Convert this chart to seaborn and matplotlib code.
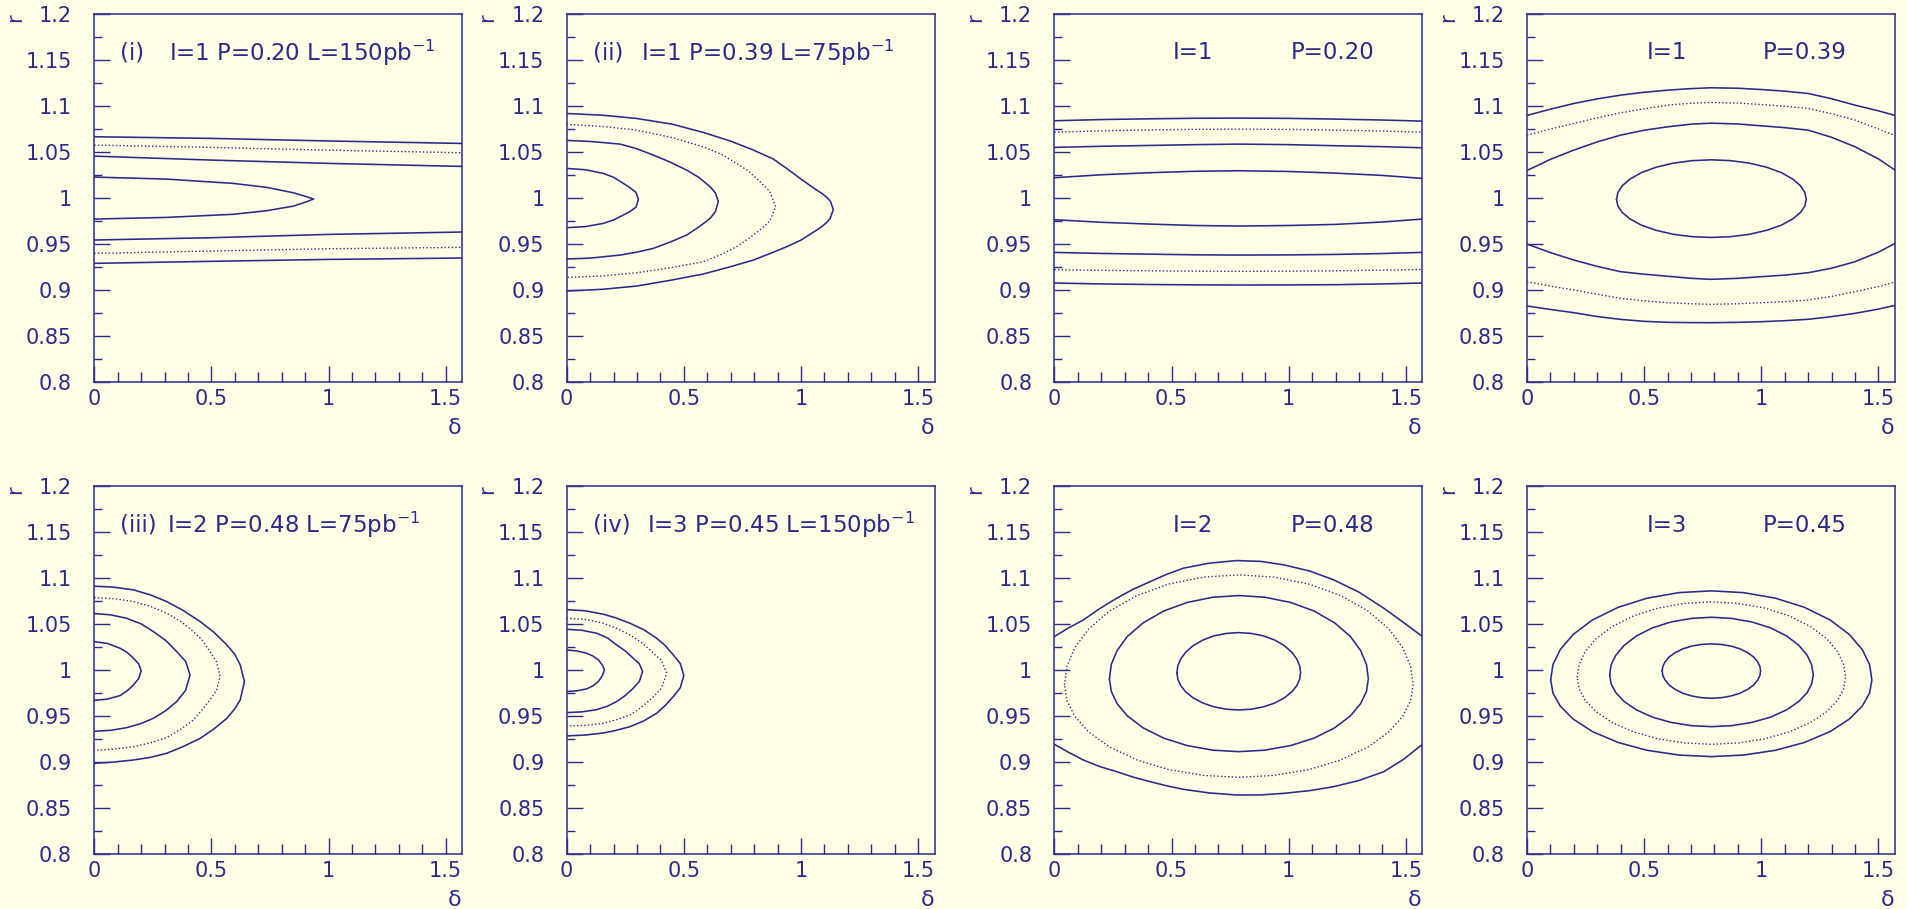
import matplotlib
matplotlib.use("Agg")
import matplotlib.pyplot as plt
import seaborn as sns
from matplotlib.ticker import FixedLocator, FixedFormatter, MultipleLocator

BG = '#FFFFE6'
INK = '#2A2A8C'

# axis ranges, ticks and labels
d_max = 1.5708
r_min, r_max = 0.8, 1.2
r_ticks = [0.8, 0.85, 0.9, 0.95, 1.0, 1.05, 1.1, 1.15, 1.2]
r_labels = ['0.8', '0.85', '0.9', '0.95', '1', '1.05', '1.1', '1.15', '1.2']
d_ticks = [0, 0.5, 1.0, 1.5]
d_labels = ['0', '0.5', '1', '1.5']

# panel texts (first part, second part)
txt_a = ['(i)', '(ii)', 'I=1', 'I=1', '(iii)', '(iv)', 'I=2', 'I=3']
txt_b = ['I=1 P=0.20 L=150pb$^{-1}$', 'I=1 P=0.39 L=75pb$^{-1}$', 'P=0.20', 'P=0.39',
         'I=2 P=0.48 L=75pb$^{-1}$', 'I=3 P=0.45 L=150pb$^{-1}$', 'P=0.48', 'P=0.45']

# contour curves: (delta, r, style)
p1 = [
    ([0, 0.5, 1.0, 1.5708], [1.0666, 1.0648, 1.062, 1.0593], 'solid'),
    ([0, 0.5, 1.0, 1.5708], [1.0575, 1.055, 1.052, 1.0492], 'dot'),
    ([0, 0.5, 1.0, 1.5708], [1.0455, 1.0412, 1.0376, 1.0343], 'solid'),
    ([0, 0.309, 0.594, 0.736, 0.85, 0.907, 0.936, 0.907, 0.85, 0.736, 0.594, 0.309, 0],
     [1.0227, 1.0205, 1.0158, 1.0115, 1.0056, 1.0013, 0.9988, 0.9959, 0.9911, 0.9861, 0.9822, 0.9788, 0.977], 'solid'),
    ([0, 0.5, 1.0, 1.5708], [0.9542, 0.9567, 0.9603, 0.9629], 'solid'),
    ([0, 0.5, 1.0, 1.5708], [0.9397, 0.9422, 0.9447, 0.9462], 'dot'),
    ([0, 0.5, 1.0, 1.5708], [0.9288, 0.931, 0.9331, 0.9346], 'solid'),
]

p2 = [
    ([0, 0.15, 0.299, 0.45, 0.583, 0.7, 0.797, 0.88, 0.939, 1.0, 1.067, 1.09, 1.11, 1.125, 1.138,
      1.125, 1.11, 1.09, 1.067, 1.0, 0.939, 0.88, 0.797, 0.7, 0.583, 0.45, 0.299, 0.15, 0],
     [1.0919, 1.0901, 1.0865, 1.0803, 1.0713, 1.0618, 1.0521, 1.0426, 1.0321, 1.0205, 1.0085, 1.0048, 1.0007, 0.9965, 0.9875,
      0.9779, 0.9734, 0.969, 0.965, 0.9541, 0.9469, 0.9407, 0.9324, 0.9252, 0.9172, 0.9107, 0.9041, 0.9005, 0.8987], 'solid'),
    ([0, 0.15, 0.299, 0.45, 0.583, 0.66, 0.725, 0.78, 0.825, 0.867, 0.892,
      0.867, 0.825, 0.78, 0.725, 0.66, 0.583, 0.45, 0.299, 0.15, 0],
     [1.080, 1.0779, 1.0738, 1.0657, 1.0557, 1.0475, 1.0376, 1.0285, 1.0176, 1.007, 0.9904,
      0.9749, 0.965, 0.9565, 0.9469, 0.9385, 0.9306, 0.9243, 0.9186, 0.915, 0.9135], 'dot'),
    ([0, 0.1, 0.228, 0.3, 0.37, 0.44, 0.512, 0.565, 0.612, 0.635, 0.647,
      0.635, 0.612, 0.565, 0.512, 0.44, 0.37, 0.3, 0.228, 0.1, 0],
     [1.0626, 1.0615, 1.0586, 1.0535, 1.0466, 1.0392, 1.0303, 1.0222, 1.0122, 1.0054, 0.9959,
      0.9852, 0.9777, 0.9685, 0.9596, 0.9518, 0.9451, 0.941, 0.9378, 0.9345, 0.9335], 'solid'),
    ([0, 0.08, 0.156, 0.2, 0.242, 0.27, 0.296, 0.306, 0.296, 0.27, 0.242, 0.2, 0.156, 0.08, 0],
     [1.0321, 1.0307, 1.0267, 1.0225, 1.0158, 1.0112, 1.006, 0.9984, 0.990, 0.9852, 0.9814, 0.976, 0.9723, 0.9688, 0.9676], 'solid'),
]

d3 = [0, 0.2, 0.4, 0.6, 0.785, 1.0, 1.2, 1.4, 1.5708]
p3 = [
    (d3, [1.084, 1.0853, 1.0861, 1.0867, 1.0869, 1.0866, 1.0858, 1.0848, 1.0836], 'solid'),
    (d3, [1.0716, 1.073, 1.074, 1.0746, 1.0749, 1.0746, 1.0738, 1.0728, 1.0716], 'dot'),
    (d3, [1.055, 1.0562, 1.0571, 1.058, 1.0586, 1.058, 1.0568, 1.0558, 1.0546], 'solid'),
    (d3, [1.022, 1.0252, 1.0274, 1.029, 1.0296, 1.0288, 1.027, 1.0245, 1.0212], 'solid'),
    (d3, [0.9763, 0.9735, 0.9716, 0.970, 0.9694, 0.970, 0.9712, 0.9738, 0.977], 'solid'),
    (d3, [0.9407, 0.9396, 0.9388, 0.9381, 0.9378, 0.938, 0.9385, 0.9395, 0.9407], 'solid'),
    (d3, [0.9219, 0.9212, 0.9207, 0.9203, 0.9201, 0.9203, 0.9207, 0.9214, 0.9222], 'dot'),
    (d3, [0.9074, 0.9064, 0.9058, 0.9054, 0.9052, 0.9053, 0.9056, 0.9064, 0.9074], 'solid'),
]

d4 = [0, 0.1, 0.2, 0.3, 0.4, 0.5, 0.6, 0.7, 0.785, 0.9, 1.0, 1.1, 1.2, 1.3, 1.4, 1.5, 1.5708]
p4 = [
    (d4, [1.0898, 1.0966, 1.1028, 1.1078, 1.1119, 1.115, 1.1173, 1.119, 1.1199, 1.1194, 1.118, 1.1162, 1.1137,
          1.108, 1.101, 1.0948, 1.0898], 'solid'),
    (d4, [1.0684, 1.075, 1.0811, 1.0872, 1.0927, 1.097, 1.101, 1.1031, 1.1039, 1.1033, 1.1017, 1.0998, 1.0974,
          1.0917, 1.0847, 1.075, 1.068], 'dot'),
    (d4, [1.0299, 1.042, 1.0521, 1.061, 1.0684, 1.0737, 1.0774, 1.0803, 1.0814, 1.0805, 1.0785, 1.0765, 1.0738,
          1.066, 1.0557, 1.0425, 1.0303], 'solid'),
    ([0.382, 0.388, 0.406, 0.439, 0.487, 0.552, 0.625, 0.706, 0.787, 0.868, 0.949, 1.022, 1.087, 1.135, 1.168, 1.186, 1.192,
      1.186, 1.168, 1.135, 1.087, 1.022, 0.949, 0.868, 0.787, 0.706, 0.625, 0.552, 0.487, 0.439, 0.406, 0.388, 0.382],
     [0.9984, 1.0059, 1.0131, 1.0204, 1.0274, 1.0335, 1.0379, 1.0406, 1.0415, 1.0406, 1.0379, 1.0335, 1.0274, 1.0204, 1.0131, 1.0059, 0.9984,
      0.9912, 0.9843, 0.9773, 0.9705, 0.9647, 0.9604, 0.9578, 0.9570, 0.9578, 0.9604, 0.9647, 0.9705, 0.9773, 0.9843, 0.9912, 0.9984], 'solid'),
    (d4, [0.9498, 0.9405, 0.9324, 0.9255, 0.9197, 0.917, 0.9148, 0.9125, 0.9114, 0.9125, 0.9143, 0.916, 0.9186,
          0.9235, 0.9306, 0.941, 0.9505], 'solid'),
    (d4, [0.9088, 0.904, 0.8998, 0.8952, 0.8907, 0.888, 0.886, 0.8848, 0.8842, 0.8848, 0.886, 0.8872, 0.8889,
          0.8928, 0.898, 0.9035, 0.9085], 'dot'),
    (d4, [0.8824, 0.8786, 0.8751, 0.8709, 0.8678, 0.8657, 0.8646, 0.8643, 0.8642, 0.8646, 0.8653, 0.8664, 0.8679,
          0.8708, 0.8744, 0.879, 0.8831], 'solid'),
]

p5 = [
    ([0, 0.08, 0.167, 0.24, 0.309, 0.38, 0.452, 0.51, 0.566, 0.6, 0.623, 0.641,
      0.623, 0.6, 0.566, 0.51, 0.452, 0.38, 0.309, 0.24, 0.167, 0.08, 0],
     [1.0915, 1.0905, 1.0875, 1.082, 1.0748, 1.065, 1.053, 1.0415, 1.0276, 1.0173, 1.0058, 0.9877,
      0.9677, 0.9581, 0.9477, 0.936, 0.9259, 0.917, 0.9096, 0.9052, 0.9023, 0.900, 0.8987], 'solid'),
    ([0, 0.08, 0.167, 0.24, 0.309, 0.37, 0.423, 0.46, 0.494, 0.522, 0.537,
      0.522, 0.494, 0.46, 0.423, 0.37, 0.309, 0.24, 0.167, 0.08, 0],
     [1.0791, 1.078, 1.0748, 1.0695, 1.0621, 1.053, 1.0421, 1.033, 1.0203, 1.0091, 0.9931,
      0.9783, 0.9677, 0.957, 0.9459, 0.936, 0.9266, 0.921, 0.9169, 0.914, 0.9129], 'dot'),
    ([0, 0.07, 0.138, 0.2, 0.252, 0.305, 0.352, 0.39, 0.409, 0.39, 0.352, 0.305, 0.252, 0.2, 0.138, 0.07, 0],
     [1.0617, 1.0603, 1.0566, 1.0505, 1.0421, 1.0325, 1.0203, 1.0096, 0.9949, 0.9782, 0.9659, 0.956, 0.9477, 0.942, 0.9375, 0.9346, 0.9336], 'solid'),
    ([0, 0.055, 0.11, 0.14, 0.167, 0.19, 0.2, 0.19, 0.167, 0.14, 0.11, 0.055, 0],
     [1.0312, 1.0292, 1.024, 1.0195, 1.0131, 1.0068, 0.9993, 0.991, 0.984, 0.9775, 0.9724, 0.9685, 0.9673], 'solid'),
]

p6 = [
    ([0, 0.08, 0.156, 0.21, 0.27, 0.33, 0.384, 0.42, 0.455, 0.485, 0.5,
      0.485, 0.455, 0.42, 0.384, 0.33, 0.27, 0.21, 0.156, 0.08, 0],
     [1.066, 1.0647, 1.061, 1.057, 1.0512, 1.044, 1.0348, 1.027, 1.0167, 1.0072, 0.9942,
      0.981, 0.9713, 0.9615, 0.9532, 0.945, 0.9386, 0.9345, 0.9317, 0.9295, 0.9285], 'solid'),
    ([0, 0.08, 0.156, 0.21, 0.27, 0.315, 0.356, 0.385, 0.405, 0.427,
      0.405, 0.385, 0.356, 0.315, 0.27, 0.21, 0.156, 0.08, 0],
     [1.0566, 1.0553, 1.0512, 1.046, 1.0385, 1.031, 1.0221, 1.015, 1.0108, 0.9967,
      0.9806, 0.975, 0.9677, 0.959, 0.9513, 0.946, 0.9422, 0.940, 0.9393], 'dot'),
    ([0, 0.065, 0.128, 0.175, 0.213, 0.25, 0.284, 0.31, 0.324, 0.31, 0.284, 0.25, 0.213, 0.175, 0.128, 0.065, 0],
     [1.0446, 1.0435, 1.0403, 1.035, 1.0276, 1.021, 1.0131, 1.0071, 0.9985, 0.9878, 0.9804, 0.9725, 0.9659, 0.961, 0.9571, 0.9547, 0.9539], 'solid'),
    ([0, 0.045, 0.085, 0.112, 0.135, 0.153, 0.161, 0.153, 0.135, 0.112, 0.085, 0.045, 0],
     [1.0221, 1.021, 1.0185, 1.0155, 1.0113, 1.0055, 1.0004, 0.9945, 0.9877, 0.983, 0.9797, 0.9777, 0.9768], 'solid'),
]

d7 = [0, 0.06, 0.124, 0.19, 0.266, 0.335, 0.409, 0.48, 0.551, 0.66, 0.779, 0.88, 0.979, 1.09, 1.192, 1.3, 1.406, 1.49, 1.5708]
p7 = [
    (d7, [1.0367, 1.046, 1.0548, 1.0665, 1.0784, 1.088, 1.0965, 1.1045, 1.1111, 1.1165, 1.1194, 1.1185, 1.1147,
          1.108, 1.0984, 1.085, 1.0675, 1.052, 1.0367], 'solid'),
    ([0.043, 0.054, 0.088, 0.147, 0.236, 0.355, 0.489, 0.638, 0.787, 0.936, 1.085, 1.219, 1.338, 1.427, 1.486, 1.520, 1.531,
      1.520, 1.486, 1.427, 1.338, 1.219, 1.085, 0.936, 0.787, 0.638, 0.489, 0.355, 0.236, 0.147, 0.088, 0.054, 0.043],
     [0.984, 1.0047, 1.0249, 1.0451, 1.0646, 1.0816, 1.0939, 1.1014, 1.1038, 1.1014, 1.0939, 1.0816, 1.0646, 1.0451, 1.0249, 1.0047, 0.984,
      0.9666, 0.9497, 0.9327, 0.9164, 0.9021, 0.8918, 0.8855, 0.8835, 0.8855, 0.8918, 0.9021, 0.9164, 0.9327, 0.9497, 0.9666, 0.984], 'dot'),
    ([0.235, 0.243, 0.268, 0.312, 0.379, 0.467, 0.567, 0.677, 0.788, 0.898, 1.008, 1.108, 1.196, 1.263, 1.307, 1.332, 1.340,
      1.332, 1.307, 1.263, 1.196, 1.108, 1.008, 0.898, 0.788, 0.677, 0.567, 0.467, 0.379, 0.312, 0.268, 0.243, 0.235],
     [0.9906, 1.0063, 1.0215, 1.0369, 1.0516, 1.0645, 1.0738, 1.0795, 1.0813, 1.0795, 1.0738, 1.0645, 1.0516, 1.0369, 1.0215, 1.0063, 0.9906,
      0.9769, 0.9636, 0.9502, 0.9373, 0.9261, 0.9180, 0.9130, 0.9114, 0.9130, 0.9180, 0.9261, 0.9373, 0.9502, 0.9636, 0.9769, 0.9906], 'solid'),
    ([0.523, 0.527, 0.539, 0.560, 0.592, 0.634, 0.681, 0.734, 0.787, 0.840, 0.893, 0.940, 0.982, 1.014, 1.035, 1.047, 1.051,
      1.047, 1.035, 1.014, 0.982, 0.940, 0.893, 0.840, 0.787, 0.734, 0.681, 0.634, 0.592, 0.560, 0.539, 0.527, 0.523],
     [0.9972, 1.0048, 1.0121, 1.0195, 1.0267, 1.0329, 1.0374, 1.0401, 1.0410, 1.0401, 1.0374, 1.0329, 1.0267, 1.0195, 1.0121, 1.0048, 0.9972,
      0.9902, 0.9834, 0.9766, 0.9700, 0.9643, 0.9602, 0.9576, 0.9568, 0.9576, 0.9602, 0.9643, 0.9700, 0.9766, 0.9834, 0.9902, 0.9972], 'solid'),
    (d7, [0.9194, 0.9108, 0.9023, 0.8955, 0.8896, 0.8838, 0.8787, 0.8742, 0.8704, 0.8665, 0.8642, 0.8643, 0.866,
          0.869, 0.8733, 0.880, 0.8896, 0.903, 0.9194], 'solid'),
]

p8 = [
    ([0.101, 0.111, 0.142, 0.197, 0.279, 0.389, 0.512, 0.649, 0.787, 0.924, 1.061, 1.184, 1.294, 1.376, 1.431, 1.462, 1.472,
      1.462, 1.431, 1.376, 1.294, 1.184, 1.061, 0.924, 0.787, 0.649, 0.512, 0.389, 0.279, 0.197, 0.142, 0.111, 0.101],
     [0.9895, 1.0063, 1.0225, 1.0389, 1.0547, 1.0685, 1.0784, 1.0845, 1.0864, 1.0845, 1.0784, 1.0685, 1.0547, 1.0389, 1.0225, 1.0063, 0.9895,
      0.9751, 0.9610, 0.9469, 0.9333, 0.9214, 0.9129, 0.9077, 0.9060, 0.9077, 0.9129, 0.9214, 0.9333, 0.9469, 0.9610, 0.9751, 0.9895], 'solid'),
    ([0.214, 0.223, 0.248, 0.294, 0.363, 0.455, 0.558, 0.672, 0.787, 0.902, 1.016, 1.119, 1.211, 1.280, 1.326, 1.351, 1.360,
      1.351, 1.326, 1.280, 1.211, 1.119, 1.016, 0.902, 0.787, 0.672, 0.558, 0.455, 0.363, 0.294, 0.248, 0.223, 0.214],
     [0.9922, 1.0064, 1.0202, 1.0341, 1.0475, 1.0592, 1.0676, 1.0728, 1.0744, 1.0728, 1.0676, 1.0592, 1.0475, 1.0341, 1.0202, 1.0064, 0.9922,
      0.9796, 0.9674, 0.9551, 0.9432, 0.9329, 0.9254, 0.9209, 0.9194, 0.9209, 0.9254, 0.9329, 0.9432, 0.9551, 0.9674, 0.9796, 0.9922], 'dot'),
    ([0.353, 0.359, 0.379, 0.414, 0.466, 0.535, 0.614, 0.701, 0.788, 0.874, 0.961, 1.040, 1.109, 1.161, 1.196, 1.215, 1.222,
      1.215, 1.196, 1.161, 1.109, 1.040, 0.961, 0.874, 0.788, 0.701, 0.614, 0.535, 0.466, 0.414, 0.379, 0.359, 0.353],
     [0.9949, 1.0058, 1.0163, 1.0269, 1.0372, 1.0461, 1.0525, 1.0564, 1.0577, 1.0564, 1.0525, 1.0461, 1.0372, 1.0269, 1.0163, 1.0058, 0.9949,
      0.9852, 0.9757, 0.9662, 0.9570, 0.9490, 0.9433, 0.9397, 0.9386, 0.9397, 0.9433, 0.9490, 0.9570, 0.9662, 0.9757, 0.9852, 0.9949], 'solid'),
    ([0.577, 0.580, 0.590, 0.606, 0.632, 0.665, 0.703, 0.745, 0.787, 0.829, 0.871, 0.909, 0.942, 0.968, 0.984, 0.994, 0.997,
      0.994, 0.984, 0.968, 0.942, 0.909, 0.871, 0.829, 0.787, 0.745, 0.703, 0.665, 0.632, 0.606, 0.590, 0.580, 0.577],
     [0.9993, 1.0044, 1.0093, 1.0143, 1.0191, 1.0233, 1.0263, 1.0281, 1.0287, 1.0281, 1.0263, 1.0233, 1.0191, 1.0143, 1.0093, 1.0044, 0.9993,
      0.9941, 0.9891, 0.9841, 0.9792, 0.9750, 0.9720, 0.9701, 0.9695, 0.9701, 0.9720, 0.9750, 0.9792, 0.9841, 0.9891, 0.9941, 0.9993], 'solid'),
]

panels = [p1, p2, p3, p4, p5, p6, p7, p8]

# text x positions (data units)
xa = [0.111, 0.111, 0.507, 0.51, 0.111, 0.111, 0.507, 0.51]
xb = [0.319, 0.316, 1.007, 1.008, 0.309, 0.342, 1.007, 1.008]

sns.set_style("white")
plt.rcParams['font.family'] = ['DejaVu Sans']
plt.rcParams['mathtext.fontset'] = 'dejavusans'

fig = plt.figure(figsize=(19.08, 9.09), dpi=100, facecolor=BG)

lefts = [0.0494, 0.2970, 0.5526, 0.8003]
bottoms = [0.5801, 0.0605]
w, h = 0.1929, 0.4043

for k, curves in enumerate(panels):
    row, col = divmod(k, 4)
    ax = fig.add_axes([lefts[col], bottoms[row], w, h])
    ax.set_facecolor(BG)

    for d, r, style in curves:
        if style == 'dot':
            sns.lineplot(x=d, y=r, sort=False, estimator=None, ax=ax, color=INK,
                         linewidth=1.0, linestyle=(0, (1, 1.6)))
        else:
            sns.lineplot(x=d, y=r, sort=False, estimator=None, ax=ax, color=INK,
                         linewidth=1.15)

    ax.set_xlim(0, d_max)
    ax.set_ylim(r_min, r_max)
    ax.xaxis.set_major_locator(FixedLocator(d_ticks))
    ax.xaxis.set_major_formatter(FixedFormatter(d_labels))
    ax.xaxis.set_minor_locator(MultipleLocator(0.1))
    ax.yaxis.set_major_locator(FixedLocator(r_ticks))
    ax.yaxis.set_major_formatter(FixedFormatter(r_labels))
    ax.yaxis.set_minor_locator(MultipleLocator(0.025))

    ax.tick_params(which='both', direction='in', color=INK, width=1.0,
                   top=False, right=False, bottom=True, left=True,
                   labelcolor=INK, labelsize=15)
    ax.tick_params(axis='x', which='major', length=11.3, pad=5)
    ax.tick_params(axis='x', which='minor', length=7.2)
    ax.tick_params(axis='y', which='major', length=11.3, pad=16)
    ax.tick_params(axis='y', which='minor', length=5.8)

    for sp in ax.spines.values():
        sp.set_color(INK)
        sp.set_linewidth(1.1)
        sp.set_visible(True)

    ax.set_xlabel('')
    ax.set_ylabel('')
    ax.text(-0.215, 0.99, 'r', transform=ax.transAxes, rotation=90,
            ha='center', va='center', fontsize=15, color=INK)
    ax.text(0.98, -0.125, 'δ', transform=ax.transAxes,
            ha='center', va='center', fontsize=16, color=INK)

    ax.text(xa[k], 1.158, txt_a[k], ha='left', va='center', fontsize=16.5, color=INK)
    ax.text(xb[k], 1.158, txt_b[k], ha='left', va='center', fontsize=16.5, color=INK)

fig.savefig('out.png', dpi=100, facecolor=BG)
